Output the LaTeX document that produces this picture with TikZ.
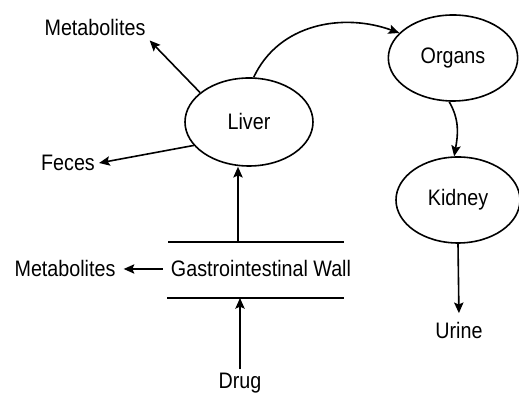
\documentclass[tikz,border=0pt]{standalone}
\usepackage{fontspec}
\setmainfont{Liberation Sans}[FakeStretch=0.88]
\usetikzlibrary{arrows.meta,shapes.geometric}
\begin{document}
\begin{tikzpicture}[x=0.75pt,y=0.75pt,
  every node/.style={font=\fontsize{16.8}{19}\selectfont, inner sep=3pt},
  organ/.style={draw, ellipse, line width=1.2pt, inner sep=0pt},
  arr/.style={line width=1.2pt, -{Stealth[length=8pt,width=7pt,inset=1.5pt]}},
  wall/.style={line width=1.2pt}]
\useasboundingbox (0,0) rectangle (519,399);
\node[organ, minimum width=96pt, minimum height=66pt] (liver) at (249,277) {Liver};
\node[organ, minimum width=97pt, minimum height=64.5pt] (organs) at (453,341) {Organs};
\node[organ, minimum width=93pt, minimum height=64.5pt] (kidney) at (458,199) {Kidney};
\node (mt) at (95,371) {Metabolites};
\node (fe) at (68,236) {Feces};
\node (gi) at (261,130) {Gastrointestinal Wall};
\node (ml) at (65,130) {Metabolites};
\node (drug) at (240,16) {Drug};
\node (urine) at (459,68) {Urine};
\coordinate (gtl) at (168,157);
\coordinate (gtr) at (344,157);
\coordinate (gbl) at (167,101);
\coordinate (gbr) at (344,101);
\coordinate (gt) at (238,157);
\draw[wall] (gtl) -- (gtr);
\draw[wall] (gbl) -- (gbr);
\draw[arr] (gt) -- (gt |- liver.south);
\draw[arr] (drug.north) -- (drug.north |- gbl);
\draw[arr, shorten <=3pt, shorten >=3pt] (gi.west) -- (ml.east);
\draw[arr] (liver.149) -- (mt.south east);
\draw[arr] (liver.203) -- (fe.east);
\draw[arr] (liver.84) to[out=65,in=160] (organs.155);
\draw[arr] (organs.265) to[out=-60,in=80] (kidney.95);
\draw[arr, shorten >=4pt] (kidney.south) -- (urine.north);
\end{tikzpicture}
\end{document}
